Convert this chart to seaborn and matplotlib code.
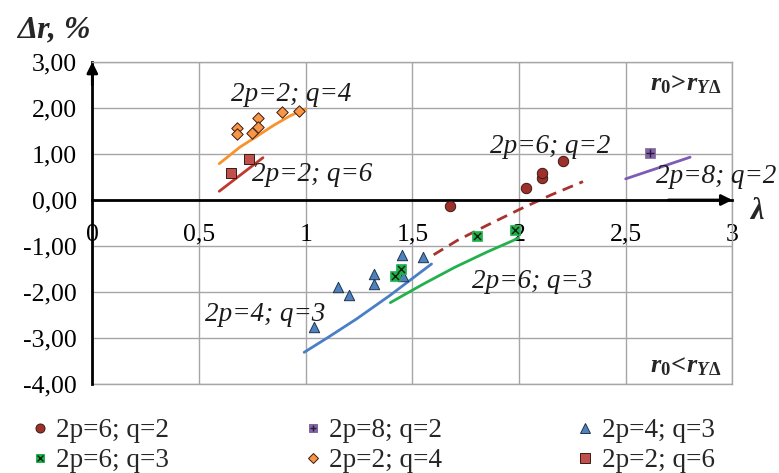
import matplotlib
matplotlib.use("Agg")
import matplotlib.pyplot as plt
import seaborn as sns
from matplotlib.lines import Line2D
from matplotlib.legend_handler import HandlerTuple

# ---- measured points ----
p6q2_x = [1.677, 2.032, 2.107, 2.107, 2.208]
p6q2_y = [-0.12, 0.26, 0.48, 0.59, 0.85]

p8q2_x = [2.615]
p8q2_y = [1.02]

p4q3_x = [1.041, 1.153, 1.203, 1.322, 1.322, 1.453, 1.458, 1.552]
p4q3_y = [-2.75, -1.90, -2.06, -1.61, -1.83, -1.19, -1.66, -1.23]

p6q3_x = [1.419, 1.446, 1.802, 1.982]
p6q3_y = [-1.66, -1.50, -0.79, -0.65]

p2q4_x = [0.68, 0.68, 0.776, 0.776, 0.75, 0.889, 0.97]
p2q4_y = [1.57, 1.43, 1.78, 1.59, 1.46, 1.91, 1.94]

p2q6_x = [0.65, 0.733]
p2q6_y = [0.59, 0.90]

# ---- calculated curves ----
c2q4_x = [0.595, 0.692, 0.77, 0.849, 0.927, 1.0]
c2q4_y = [0.79, 1.15, 1.38, 1.62, 1.83, 1.98]

c2q6_x = [0.595, 0.80]
c2q6_y = [0.19, 0.92]

c6q2_x = [1.60, 1.71, 1.85, 2.0, 2.15, 2.30]
c6q2_y = [-1.19, -0.88, -0.55, -0.21, 0.11, 0.40]

c4q3_x = [0.993, 1.10, 1.24, 1.396, 1.59]
c4q3_y = [-3.31, -3.00, -2.58, -2.07, -1.39]

c6q3_x = [1.397, 1.55, 1.70, 1.85, 1.997]
c6q3_y = [-2.23, -1.83, -1.46, -1.13, -0.83]

c8q2_x = [2.5, 2.802]
c8q2_y = [0.46, 0.93]

x_ticks = [0, 0.5, 1, 1.5, 2, 2.5, 3]
x_tick_labels = ["0", "0,5", "1", "1,5", "2", "2,5", "3"]
y_ticks = [-4, -3, -2, -1, 0, 1, 2, 3]
y_tick_labels = ["-4,00", "-3,00", "-2,00", "-1,00", "0,00", "1,00", "2,00", "3,00"]

series_labels = ["2p=6; q=2", "2p=8; q=2", "2p=4; q=3",
                 "2p=6; q=3", "2p=2; q=4", "2p=2; q=6"]

sns.set_theme(style="white")
plt.rcParams["font.family"] = ["Liberation Serif", "DejaVu Serif"]
plt.rcParams["mathtext.fontset"] = "custom"
plt.rcParams["mathtext.it"] = "Liberation Serif:italic:bold"
plt.rcParams["mathtext.rm"] = "Liberation Serif:bold"
plt.rcParams["mathtext.bf"] = "Liberation Serif:bold"

GRID = "#A6A6A6"
C_CIRC = "#9E302C"
C_PURP = "#8064A2"
C_TRI = "#4F81BD"
C_GRN = "#1EB14B"
C_DIAM = "#F79646"
C_RSQ = "#C0504D"
EDGE = "#3A1A12"

fig = plt.figure(figsize=(7.79, 4.73), dpi=100)
ax = fig.add_axes([0.1185, 0.188, 0.8216, 0.681])
ax.set_xlim(0, 3)
ax.set_ylim(-4, 3)

ax.grid(True, color=GRID, lw=1)
ax.axhline(-4, color=GRID, lw=1, clip_on=False, zorder=1)
ax.set_axisbelow(True)

# curves
lw = 2.0
sns.lineplot(x=c2q4_x, y=c2q4_y, color="#F9922B", lw=lw, ax=ax, sort=False, estimator=None)
sns.lineplot(x=c2q6_x, y=c2q6_y, color="#C0392F", lw=lw, ax=ax, sort=False, estimator=None)
sns.lineplot(x=c6q2_x, y=c6q2_y, color="#A8322E", lw=lw, ax=ax, sort=False, estimator=None,
             linestyle=(0, (4, 2.5)))
sns.lineplot(x=c4q3_x, y=c4q3_y, color="#4A7EC6", lw=lw, ax=ax, sort=False, estimator=None)
sns.lineplot(x=c6q3_x, y=c6q3_y, color="#22B14C", lw=lw, ax=ax, sort=False, estimator=None)
sns.lineplot(x=c8q2_x, y=c8q2_y, color="#7E5BB5", lw=lw, ax=ax, sort=False, estimator=None)

# measured points
sns.scatterplot(x=p2q4_x, y=p2q4_y, marker="D", s=34, color=C_DIAM, edgecolor=EDGE, linewidth=0.7, ax=ax, zorder=4)
sns.scatterplot(x=p2q6_x, y=p2q6_y, marker="s", s=62, color=C_RSQ, edgecolor=EDGE, linewidth=0.7, ax=ax, zorder=4)
sns.scatterplot(x=p6q2_x, y=p6q2_y, marker="o", s=56, color=C_CIRC, edgecolor=EDGE, linewidth=0.7, ax=ax, zorder=4)
sns.scatterplot(x=p8q2_x, y=p8q2_y, marker="s", s=42, color=C_PURP, edgecolor=C_PURP, linewidth=0.5, ax=ax, zorder=4)
sns.scatterplot(x=p8q2_x, y=p8q2_y, marker="+", s=28, color="#2A1A3A", linewidth=1.0, ax=ax, zorder=5)
sns.scatterplot(x=p4q3_x, y=p4q3_y, marker="^", s=56, color=C_TRI, edgecolor="#1F3550", linewidth=0.7, ax=ax, zorder=4)
sns.scatterplot(x=p6q3_x, y=p6q3_y, marker="s", s=48, color=C_GRN, edgecolor=C_GRN, linewidth=0.5, ax=ax, zorder=5)
sns.scatterplot(x=p6q3_x, y=p6q3_y, marker="x", s=26, color="#102010", linewidth=1.0, ax=ax, zorder=6)

# axes styling
for side in ("top", "right"):
    ax.spines[side].set_color(GRID)
    ax.spines[side].set_linewidth(1)
ax.spines["left"].set_color("black")
ax.spines["left"].set_linewidth(2)
ax.spines["bottom"].set_position(("data", 0))
ax.spines["bottom"].set_color("black")
ax.spines["bottom"].set_linewidth(2)

ax.set_xticks(x_ticks)
ax.set_xticklabels(x_tick_labels)
ax.set_yticks(y_ticks)
ax.set_yticklabels(y_tick_labels)
ax.tick_params(axis="x", direction="inout", length=12, width=1.8, color="black",
               labelsize=18.5, pad=11, labelcolor="black")
ax.tick_params(axis="y", direction="inout", length=12, width=1.8, color="black",
               labelsize=18.5, pad=5, labelcolor="black")
ax.set_xlabel("")
ax.set_ylabel("")

arrow = dict(arrowstyle="-|>", color="black", lw=2, mutation_scale=16, shrinkA=0, shrinkB=0)
ax.annotate("", xy=(0, 3.0), xytext=(0, 2.5), arrowprops=arrow, annotation_clip=False)
ax.annotate("", xy=(3.0, 0), xytext=(2.7, 0), arrowprops=arrow, annotation_clip=False)

# series annotations
lab = dict(fontstyle="italic", fontsize=19.5, va="center", ha="left", color="#1a1a1a")
ax.text(0.65, 2.29, "2p=2; q=4", **lab)
ax.text(0.75, 0.55, "2p=2; q=6", **lab)
ax.text(1.866, 1.16, "2p=6; q=2", **lab)
ax.text(2.64, 0.51, "2p=8; q=2", **lab)
ax.text(0.528, -2.49, "2p=4; q=3", **lab)
ax.text(1.78, -1.77, "2p=6; q=3", **lab)

ax.text(2.95, 2.5, r"$r_{\mathit{0}}\!>\!r_{\mathit{Y}\Delta}$", fontsize=19, ha="right", va="center")
ax.text(2.95, -3.62, r"$r_{\mathit{0}}\!<\!r_{\mathit{Y}\Delta}$", fontsize=19, ha="right", va="center")

ax.text(3.116, -0.25, "λ", fontstyle="italic", fontweight="bold", fontsize=22,
        ha="center", va="center", clip_on=False)
fig.text(0.022, 0.937, "Δr, %", fontstyle="italic", fontweight="bold", fontsize=23,
         ha="left", va="center")

# legend
def mk(marker, fc, ec, ms, mew=0.7):
    return Line2D([], [], ls="", marker=marker, mfc=fc, mec=ec, ms=ms, mew=mew)

h_6q2 = mk("o", C_CIRC, EDGE, 6.5)
h_8q2 = (mk("s", C_PURP, C_PURP, 6), mk("+", "none", "#2A1A3A", 5, 1.0))
h_4q3 = mk("^", C_TRI, "#1F3550", 6.5)
h_6q3 = (mk("s", C_GRN, C_GRN, 6), mk("x", "none", "#102010", 4.5, 1.0))
h_2q4 = mk("D", C_DIAM, EDGE, 5.5)
h_2q6 = mk("s", C_RSQ, EDGE, 6.5)

handles = [h_6q2, h_6q3, h_8q2, h_2q4, h_4q3, h_2q6]
labels = [series_labels[0], series_labels[3], series_labels[1],
          series_labels[4], series_labels[2], series_labels[5]]
fig.legend(handles, labels, ncol=3, loc="center", bbox_to_anchor=(0.479, 0.058),
           frameon=False, fontsize=19.5, handlelength=0.6, handletextpad=0.3,
           columnspacing=5.0, labelspacing=0.18,
           handler_map={tuple: HandlerTuple(ndivide=1, pad=0)})

fig.savefig("out.png", dpi=100, facecolor="white")
